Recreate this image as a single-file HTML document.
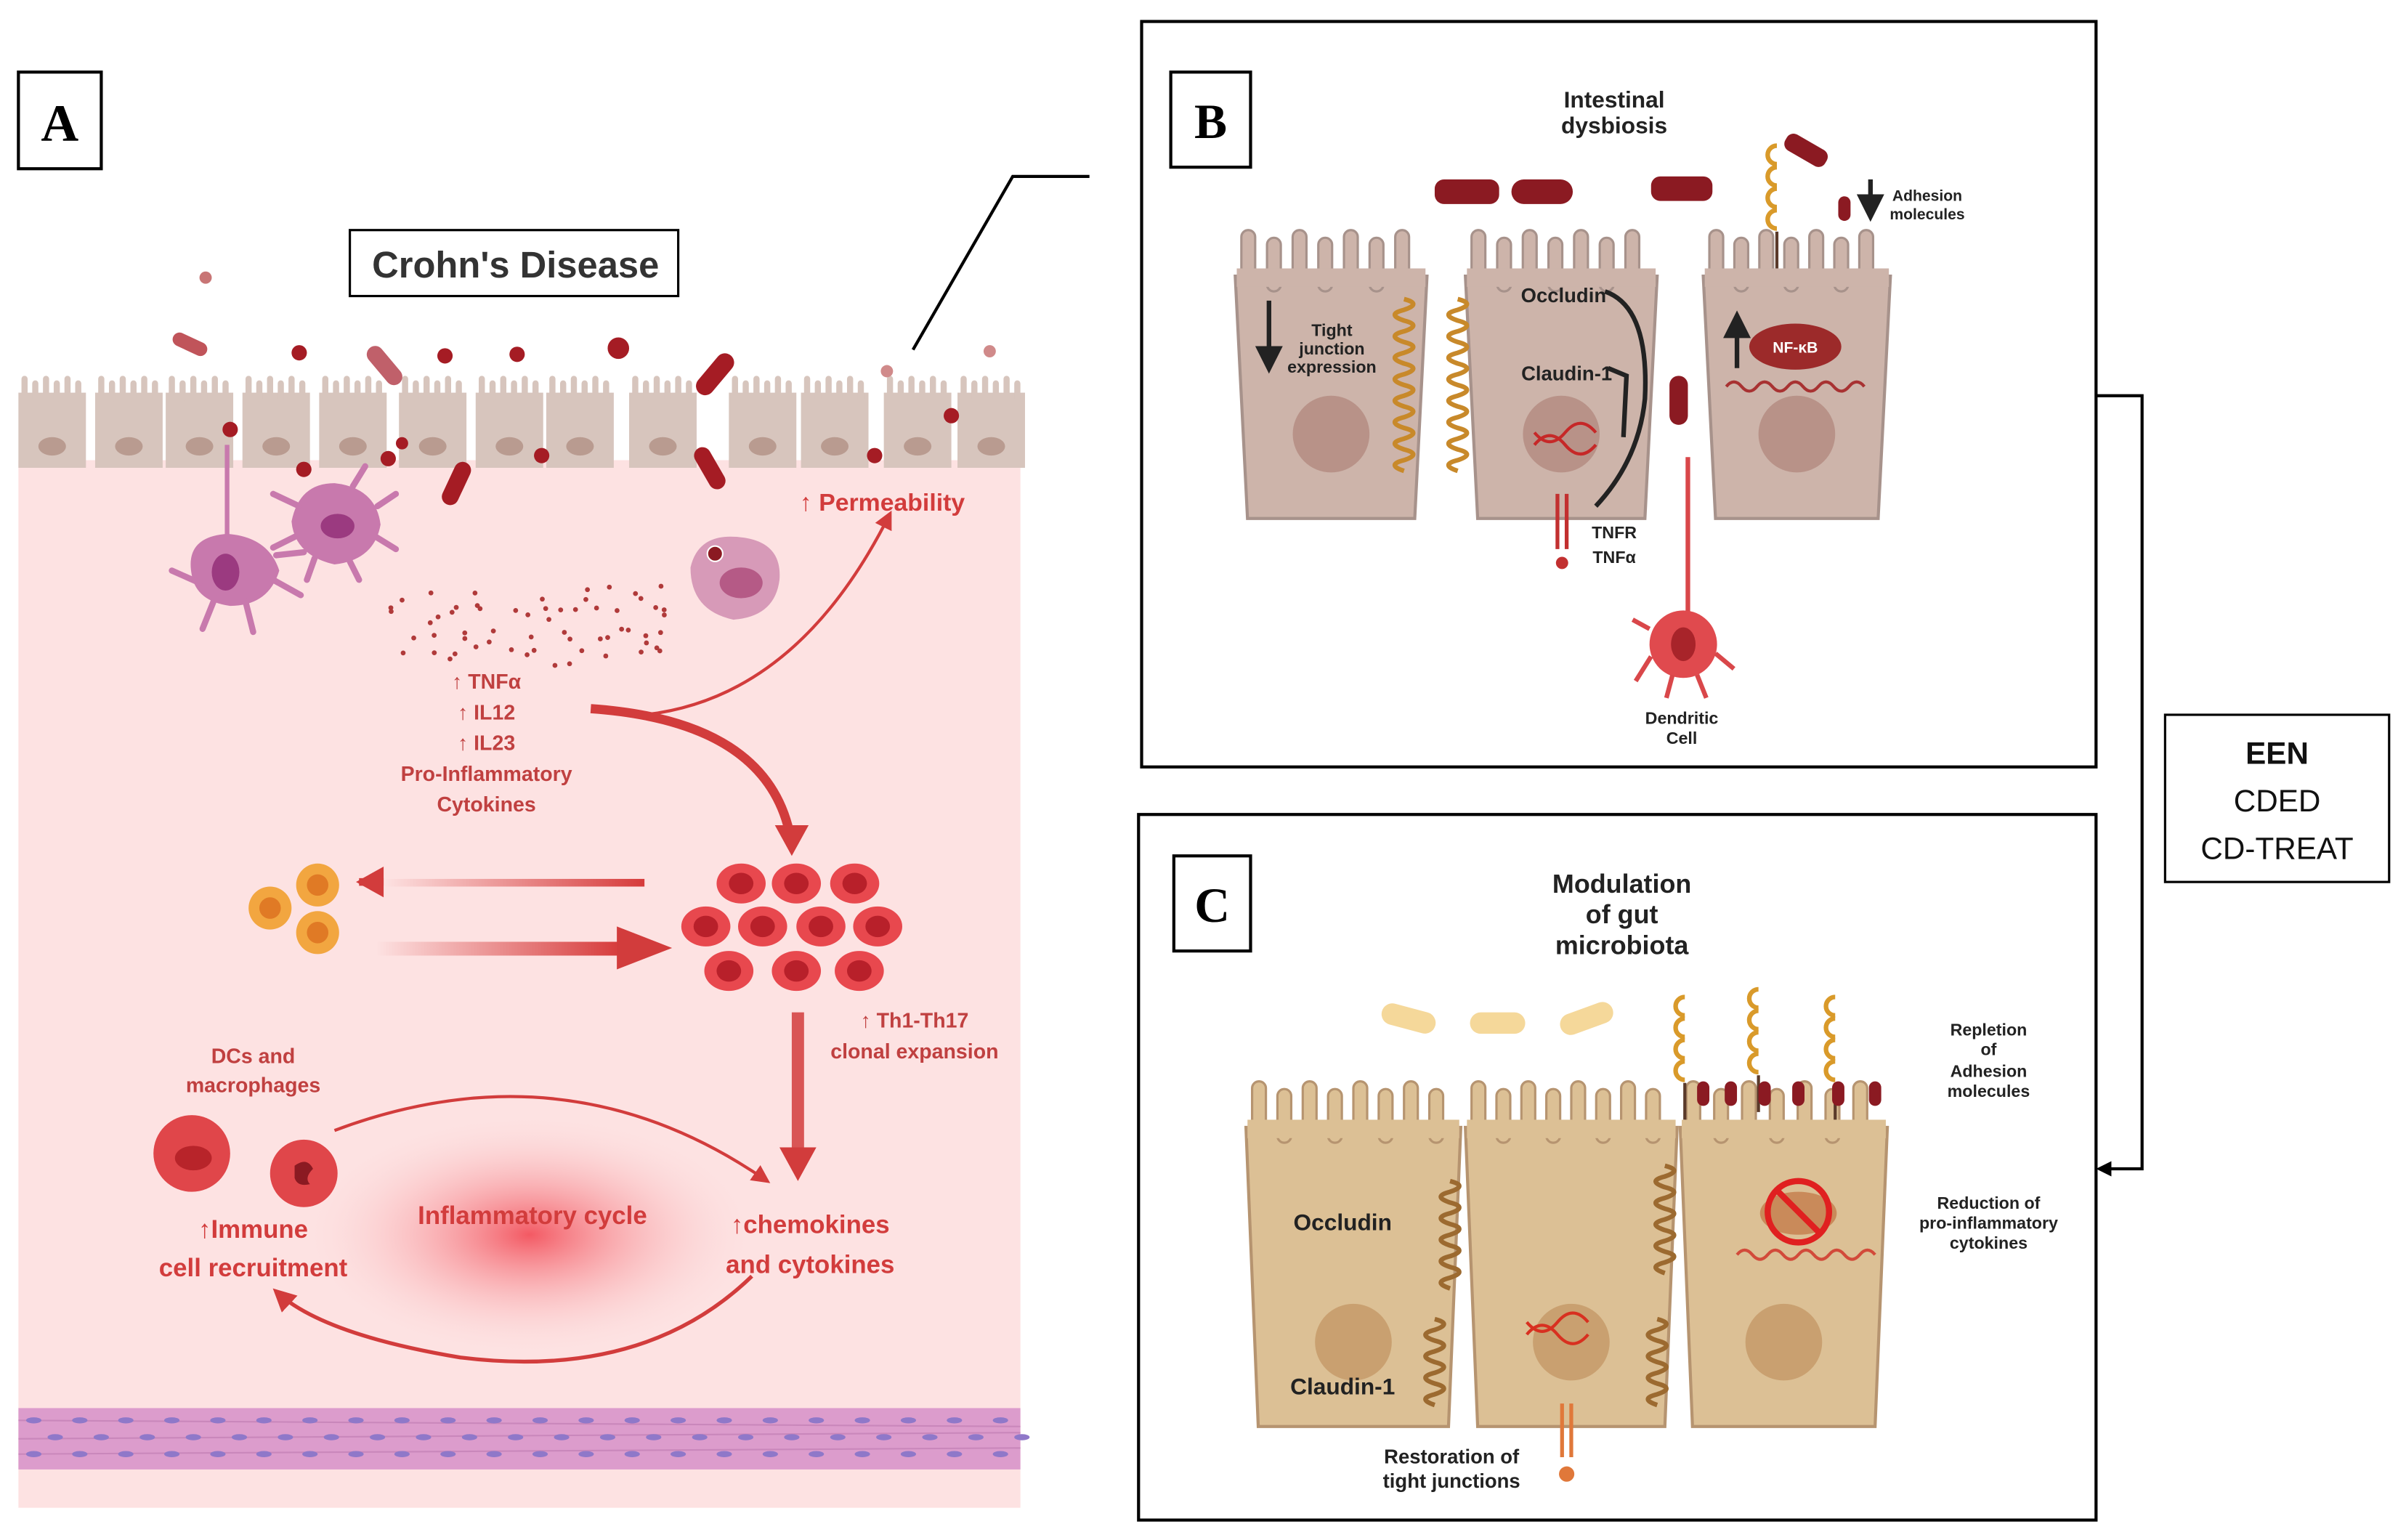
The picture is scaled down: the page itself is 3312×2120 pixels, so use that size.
<!DOCTYPE html>
<html><head><meta charset="utf-8">
<style>
html,body{margin:0;padding:0;background:#fff;}
svg{display:block;}
text{font-family:"Liberation Sans",sans-serif;}
</style></head>
<body>
<svg id="s" width="3312" height="2120" viewBox="0 0 1568 1004" preserveAspectRatio="none" xmlns="http://www.w3.org/2000/svg">
<defs>
<radialGradient id="rg" cx="0.5" cy="0.5" r="0.5">
<stop offset="0" stop-color="#f24a55" stop-opacity="0.9"/>
<stop offset="1" stop-color="#fde3e3" stop-opacity="0"/>
</radialGradient>
<linearGradient id="fadeL" x1="0" x2="1"><stop offset="0" stop-color="#d63a3a"/><stop offset="1" stop-color="#d63a3a" stop-opacity="0"/></linearGradient>
<linearGradient id="fadeR" x1="0" x2="1"><stop offset="0" stop-color="#d63a3a" stop-opacity="0"/><stop offset="1" stop-color="#d63a3a"/></linearGradient>
<marker id="ar" viewBox="0 0 10 10" refX="8" refY="5" markerWidth="6" markerHeight="6" orient="auto"><path d="M0,0L10,5L0,10z" fill="#d23c3c"/></marker>
<marker id="ak" viewBox="0 0 10 10" refX="8" refY="5" markerWidth="6" markerHeight="6" orient="auto"><path d="M0,0L10,5L0,10z" fill="#222"/></marker>
</defs>
<rect width="1568" height="1004" fill="#fff"/>

<!-- Panel A -->
<rect x="12" y="300" width="653" height="683" fill="#fde2e2"/>
<ellipse cx="345" cy="805" rx="150" ry="80" fill="url(#rg)"/>
<g id="acells"></g>
<rect x="12" y="918" width="653" height="40" fill="#dc9ccc"/>
<g stroke="#c27fb4" stroke-width="1" opacity="0.7">
<line x1="12" y1="926" x2="665" y2="930"/><line x1="12" y1="938" x2="665" y2="934"/><line x1="12" y1="948" x2="665" y2="944"/>
</g>
<g id="muscle"></g>

<rect x="12" y="47" width="54" height="63" fill="#fff" stroke="#000" stroke-width="2"/>
<text x="39" y="92" font-family="Liberation Serif" font-weight="bold" font-size="34" text-anchor="middle" style="font-family:'Liberation Serif',serif">A</text>
<rect x="228" y="150" width="214" height="43" fill="#fff" stroke="#000" stroke-width="1.5"/>
<text x="336" y="181" font-size="24" font-weight="bold" text-anchor="middle" fill="#333">Crohn's Disease</text>
<polyline points="595,228 660,115 710,115" fill="none" stroke="#000" stroke-width="2"/>

<!-- bacteria A -->
<g fill="#a51c24">
<circle cx="134" cy="181" r="4" fill="#c87575"/>
<rect x="112" y="220" width="24" height="9" rx="4.5" transform="rotate(25 124 224)" fill="#c0545a"/>
<circle cx="195" cy="230" r="5"/><circle cx="290" cy="232" r="5"/><circle cx="337" cy="231" r="5"/><circle cx="403" cy="227" r="7"/>
<rect x="236" y="233" width="30" height="11" rx="5.5" transform="rotate(50 251 238)" fill="#c0606a"/>
<rect x="450" y="238" width="32" height="12" rx="6" transform="rotate(-50 466 244)"/>
<rect x="282" y="310" width="30" height="11" rx="5.5" transform="rotate(-65 297 315)"/>
<rect x="448" y="300" width="30" height="11" rx="5.5" transform="rotate(60 463 305)"/>
<circle cx="150" cy="280" r="5"/><circle cx="198" cy="306" r="5"/><circle cx="253" cy="299" r="5"/><circle cx="262" cy="289" r="4"/><circle cx="353" cy="297" r="5"/><circle cx="570" cy="297" r="5"/><circle cx="620" cy="271" r="5"/>
<circle cx="578" cy="242" r="4" fill="#d08a8a"/><circle cx="645" cy="229" r="4" fill="#d08a8a"/>
</g>

<!-- immune cells top -->
<g fill="#c879ad">
<line x1="148" y1="290" x2="148" y2="360" stroke="#c879ad" stroke-width="3"/>
<path d="M125,375 Q120,350 148,348 Q175,350 182,372 Q175,395 150,395 Q128,392 125,375z"/>
<g stroke="#c879ad" stroke-width="4" stroke-linecap="round"><line x1="130" y1="380" x2="112" y2="372"/><line x1="140" y1="390" x2="132" y2="410"/><line x1="160" y1="392" x2="165" y2="412"/><line x1="178" y1="378" x2="196" y2="388"/><line x1="180" y1="362" x2="198" y2="360"/></g>
<ellipse cx="147" cy="373" rx="9" ry="12" fill="#9b3a80"/>
<path d="M190,340 Q195,315 218,315 Q245,318 248,342 Q244,365 218,368 Q192,362 190,340z"/>
<g stroke="#c879ad" stroke-width="4" stroke-linecap="round"><line x1="195" y1="330" x2="178" y2="322"/><line x1="192" y1="350" x2="178" y2="357"/><line x1="205" y1="364" x2="200" y2="378"/><line x1="228" y1="366" x2="234" y2="378"/><line x1="245" y1="350" x2="258" y2="358"/><line x1="246" y1="330" x2="258" y2="322"/><line x1="230" y1="317" x2="238" y2="304"/></g>
<ellipse cx="220" cy="343" rx="11" ry="8" fill="#9b3a80"/>
<path d="M450,370 Q455,348 480,350 Q510,352 508,378 Q505,402 478,404 Q450,398 450,370z" fill="#d79ab8"/>
<ellipse cx="483" cy="380" rx="14" ry="10" fill="#b55a86"/>
<circle cx="466" cy="361" r="5" fill="#8b1a22" stroke="#fff" stroke-width="1"/>
</g>
<g id="dots" fill="#b03a3a"></g>

<!-- A texts -->
<g fill="#d23c3c" font-weight="bold" text-anchor="middle">
<text x="575" y="333" font-size="16">↑ Permeability</text>
</g>
<g fill="#c04040" font-size="13.5" text-anchor="middle" font-weight="bold">
<text x="317" y="449">↑ TNFα</text><text x="317" y="469">↑ IL12</text><text x="317" y="489">↑ IL23</text>
<text x="317" y="509">Pro-Inflammatory</text><text x="317" y="529">Cytokines</text>
<text x="596" y="670">↑ Th1-Th17</text><text x="596" y="690">clonal expansion</text>
<text x="165" y="693">DCs and</text><text x="165" y="712">macrophages</text>
</g>
<g fill="#d23c3c" font-size="16.5" text-anchor="middle" font-weight="bold">
<text x="165" y="807">↑Immune</text><text x="165" y="832">cell recruitment</text>
<text x="347" y="798">Inflammatory cycle</text>
<text x="528" y="804">↑chemokines</text><text x="528" y="830">and cytokines</text>
</g>
<!-- arrows A -->
<path d="M420,466 Q520,455 580,335" fill="none" stroke="#d23c3c" stroke-width="2" marker-end="url(#ar)"/>
<path d="M385,462 Q500,470 515,545" fill="none" stroke="#d23c3c" stroke-width="6"/>
<path d="M505,538 L527,538 L516,558z" fill="#d23c3c"/>
<rect x="250" y="573" width="170" height="5" fill="url(#fadeL)" transform="rotate(180 335 575.5)"/>
<path d="M250,575 L234,575" stroke="#d23c3c" stroke-width="5"/><path d="M232,575 L250,565 L250,585z" fill="#d23c3c"/>
<rect x="245" y="614" width="160" height="9" fill="url(#fadeR)"/>
<path d="M402,604 L438,618 L402,632z" fill="#d23c3c"/>
<rect x="516" y="660" width="8" height="90" fill="#d23c3c" opacity="0.85"/>
<path d="M508,748 L532,748 L520,770z" fill="#d23c3c"/>
<path d="M218,737 Q370,680 500,770" fill="none" stroke="#d23c3c" stroke-width="2" marker-end="url(#ar)"/>
<path d="M490,832 Q420,900 300,885 Q210,870 180,842" fill="none" stroke="#d23c3c" stroke-width="2.5" marker-end="url(#ar)"/>
<!-- T cells -->
<g id="tcells"></g>
<!-- DC / macrophage bottom -->
<g fill="#e0464a">
<circle cx="125" cy="752" r="25"/>
<ellipse cx="126" cy="755" rx="12" ry="8" fill="#b8242a"/>
<circle cx="198" cy="765" r="22"/>
<path d="M192,760 q8,-6 12,2 q-6,6 -2,10 q-8,2 -10,-4z" fill="#8b1a22"/>
</g>

<!-- Panel B -->
<rect x="744" y="14" width="622" height="486" fill="#fff" stroke="#000" stroke-width="2"/>
<rect x="763" y="47" width="52" height="62" fill="#fff" stroke="#000" stroke-width="2"/>
<text x="789" y="90" font-weight="bold" font-size="32" text-anchor="middle" style="font-family:'Liberation Serif',serif">B</text>
<g id="bcells"></g>
<g font-weight="bold" fill="#222" text-anchor="middle">
<text x="1052" y="70" font-size="15">Intestinal</text><text x="1052" y="87" font-size="15">dysbiosis</text>
<text x="868" y="219" font-size="11">Tight</text><text x="868" y="231" font-size="11">junction</text><text x="868" y="243" font-size="11">expression</text>
<text x="1019" y="197" font-size="13">Occludin</text><text x="1021" y="248" font-size="13">Claudin-1</text>
<text x="1052" y="351" font-size="11">TNFR</text><text x="1052" y="367" font-size="11">TNFα</text>
<text x="1096" y="472" font-size="11">Dendritic</text><text x="1096" y="485" font-size="11">Cell</text>
<text x="1256" y="131" font-size="10">Adhesion</text><text x="1256" y="143" font-size="10">molecules</text>
</g>
<path d="M827,196 L827,240" stroke="#222" stroke-width="3" marker-end="url(#ak)"/>
<path d="M1132,240 L1132,206" stroke="#222" stroke-width="3" marker-end="url(#ak)"/>
<path d="M1219,117 L1219,141" stroke="#222" stroke-width="3" marker-end="url(#ak)"/>
<path d="M1046,190 Q1075,200 1072,260 Q1068,300 1040,330" fill="none" stroke="#222" stroke-width="3"/>
<path d="M1048,240 L1060,245 L1058,285" fill="none" stroke="#222" stroke-width="3"/>
<g fill="#8b1a22">
<rect x="935" y="117" width="42" height="16" rx="6"/><rect x="985" y="117" width="40" height="16" rx="8"/><rect x="1076" y="115" width="40" height="16" rx="6"/>
<rect x="1162" y="92" width="30" height="12" rx="5" transform="rotate(30 1177 98)"/>
<rect x="1088" y="245" width="12" height="32" rx="6"/>
<ellipse cx="1170" cy="226" rx="30" ry="15" fill="#9c2a2a"/>
</g>
<text x="1170" y="230" font-size="10" fill="#fff" text-anchor="middle" font-weight="bold">NF-κB</text>
<path d="M1125,252 q5,-6 10,0 t10,0 t10,0 t10,0 t10,0 t10,0 t10,0 t10,0 t10,0" fill="none" stroke="#a83232" stroke-width="2"/>
<path d="M1100,298 L1100,430" stroke="#d9474a" stroke-width="3"/>
<circle cx="1097" cy="420" r="22" fill="#e04a4e"/><ellipse cx="1097" cy="420" rx="8" ry="11" fill="#a8242a"/>
<g stroke="#d9474a" stroke-width="3"><line x1="1076" y1="428" x2="1066" y2="444"/><line x1="1090" y1="440" x2="1086" y2="455"/><line x1="1106" y1="440" x2="1112" y2="455"/><line x1="1118" y1="426" x2="1130" y2="436"/><line x1="1075" y1="410" x2="1064" y2="404"/></g>
<g stroke="#c23030" stroke-width="2.5"><line x1="1015" y1="322" x2="1015" y2="358"/><line x1="1021" y1="322" x2="1021" y2="358"/></g>
<circle cx="1018" cy="367" r="4" fill="#c23030"/>
<path d="M1000,290 q10,-12 20,0 t20,0 M1000,282 q10,12 20,0 t20,0" fill="none" stroke="#c62828" stroke-width="2"/>
<path d="M1000,290 q10,-12 20,0 t20,0" transform="translate(0,0)" fill="none" stroke="#c62828" stroke-width="2"/>

<!-- bracket -->
<polyline points="1366,258 1396,258 1396,762 1372,762" fill="none" stroke="#000" stroke-width="2"/>
<path d="M1366,762 L1376,757 L1376,767z" fill="#000"/>
<rect x="1411" y="466" width="146" height="109" fill="#fff" stroke="#000" stroke-width="1.5"/>
<g font-size="20" text-anchor="middle" fill="#111">
<text x="1484" y="498" font-weight="bold">EEN</text><text x="1484" y="529">CDED</text><text x="1484" y="560">CD-TREAT</text>
</g>

<!-- Panel C -->
<rect x="742" y="531" width="624" height="460" fill="#fff" stroke="#000" stroke-width="2"/>
<rect x="765" y="558" width="50" height="62" fill="#fff" stroke="#000" stroke-width="2"/>
<text x="790" y="601" font-weight="bold" font-size="32" text-anchor="middle" style="font-family:'Liberation Serif',serif">C</text>
<g id="ccells"></g>
<g font-weight="bold" fill="#222" text-anchor="middle">
<text x="1057" y="582" font-size="17">Modulation</text><text x="1057" y="602" font-size="17">of gut</text><text x="1057" y="622" font-size="17">microbiota</text>
<text x="875" y="802" font-size="15">Occludin</text><text x="875" y="909" font-size="15">Claudin-1</text>
<text x="946" y="954" font-size="13">Restoration of</text><text x="946" y="970" font-size="13">tight junctions</text>
<text x="1296" y="675" font-size="11">Repletion</text><text x="1296" y="688" font-size="11">of</text><text x="1296" y="702" font-size="11">Adhesion</text><text x="1296" y="715" font-size="11">molecules</text>
<text x="1296" y="788" font-size="11">Reduction of</text><text x="1296" y="801" font-size="11">pro-inflammatory</text><text x="1296" y="814" font-size="11">cytokines</text>
</g>
<g fill="#f5d89a"><rect x="900" y="657" width="36" height="14" rx="7" transform="rotate(15 918 664)"/><rect x="958" y="660" width="36" height="14" rx="7"/><rect x="1016" y="657" width="36" height="14" rx="7" transform="rotate(-20 1034 664)"/></g>
<ellipse cx="1172" cy="791" rx="25" ry="14" fill="#c98a5a"/>
<circle cx="1172" cy="790" r="20" fill="none" stroke="#e02020" stroke-width="4"/>
<line x1="1158" y1="776" x2="1186" y2="804" stroke="#e02020" stroke-width="4"/>
<path d="M1132,818 q5,-6 10,0 t10,0 t10,0 t10,0 t10,0 t10,0 t10,0 t10,0 t10,0" fill="none" stroke="#d24a3a" stroke-width="2"/>
<path d="M995,870 q10,-12 20,0 t20,0 M995,862 q10,12 20,0 t20,0" fill="none" stroke="#d83020" stroke-width="2"/>
<g stroke="#e0783a" stroke-width="2.5"><line x1="1018" y1="915" x2="1018" y2="950"/><line x1="1024" y1="915" x2="1024" y2="950"/></g>
<circle cx="1021" cy="961" r="5" fill="#e0783a"/>
</g>
</svg>
<script>
var NS="http://www.w3.org/2000/svg";
function el(p,t,a){var e=document.createElementNS(NS,t);for(var k in a)e.setAttribute(k,a[k]);p.appendChild(e);return e;}
// A epithelial cells
var g=document.getElementById('acells');
var xs=[12,62,108,158,208,260,310,356,410,475,522,576,624];
xs.forEach(function(x){var w=44;
 el(g,'rect',{x:x,y:256,width:w,height:49,fill:'#d7c5bd'});
 for(var i=0;i<6;i++) el(g,'rect',{x:x+2+i*7,y:245+(i%2)*3,width:4,height:14,rx:2,fill:'#d7c5bd'});
 el(g,'ellipse',{cx:x+w/2,cy:291,rx:9,ry:6,fill:'#b99b90'});
});
// muscle nuclei
var m=document.getElementById('muscle');
for(var r=0;r<3;r++)for(var i=0;i<22;i++) el(m,'ellipse',{cx:22+i*30+(r%2)*14,cy:926+r*11,rx:5,ry:2,fill:'#8f78c9'});
// dots
var d=document.getElementById('dots');var seed=3;function rnd(){seed=(seed*9301+49297)%233280;return seed/233280;}
for(var i=0;i<60;i++){var x=250+rnd()*190;var y=375+rnd()*50+Math.abs(x-340)*-0.15+15;el(d,'circle',{cx:x,cy:y,r:1.6});}
// T cells
var t=document.getElementById('tcells');
[[483,576],[519,576],[557,576],[460,604],[497,604],[535,604],[572,604],[475,633],[519,633],[560,633]].forEach(function(p){
 el(t,'ellipse',{cx:p[0],cy:p[1],rx:16,ry:13,fill:'#e8484e'});el(t,'ellipse',{cx:p[0],cy:p[1],rx:8,ry:7,fill:'#b8202a'});});
[[176,592],[207,577],[207,608]].forEach(function(p){el(t,'circle',{cx:p[0],cy:p[1],r:14,fill:'#f2a640'});el(t,'circle',{cx:p[0],cy:p[1],r:7,fill:'#e07a25'});});
// B cells
var b=document.getElementById('bcells');
function cell(p,x,w,top,bot,fill,stroke,nuc){
 el(p,'path',{d:'M'+x+','+(top+15)+' L'+(x+w)+','+(top+15)+' L'+(x+w-8)+','+bot+' L'+(x+8)+','+bot+' Z',fill:fill,stroke:stroke,'stroke-width':2});
 var n=Math.floor(w/17);for(var i=0;i<n;i++) el(p,'rect',{x:x+4+i*(w-8)/n,y:top-15+(i%2)*5,width:9,height:35,rx:4.5,fill:fill,stroke:stroke,'stroke-width':1.5});
 el(p,'rect',{x:x+1,y:top+10,width:w-2,height:12,fill:fill});
 el(p,'circle',{cx:x+w/2,cy:bot-55,r:25,fill:nuc});
}
cell(b,805,125,165,338,'#cdb4aa','#a7928b','#b89288');
cell(b,955,125,165,338,'#cdb4aa','#a7928b','#b89288');
cell(b,1110,122,165,338,'#cdb4aa','#a7928b','#b89288');
var c=document.getElementById('ccells');
cell(c,812,140,720,930,'#dcc095','#b69470','#c9a070');
cell(c,955,138,720,930,'#dcc095','#b69470','#c9a070');
cell(c,1095,135,720,930,'#dcc095','#b69470','#c9a070');
// junction squiggles B
function squig(p,x,y0,y1,col){var s='M'+x+','+y0;for(var y=y0;y<y1;y+=14)s+=' q12,3 0,7 q-12,3 0,7';el(p,'path',{d:s,fill:'none',stroke:col,'stroke-width':3});}
squig(b,915,195,305,'#c8892a');squig(b,950,195,305,'#c8892a');
squig(c,945,770,830,'#9c6a30');squig(c,935,860,910,'#9c6a30');squig(c,1085,760,830,'#9c6a30');squig(c,1080,860,910,'#9c6a30');
// adhesion molecules
[[1150,95,b],[1090,650,c],[1138,645,c],[1188,650,c]].forEach(function(a){var p=a[2];
 for(var i=0;i<4;i++) el(p,'path',{d:'M'+(a[0]+8)+','+(a[1]+i*14)+' a6,6 0 1,0 0,12',fill:'none',stroke:'#d99a2a','stroke-width':3});
 el(p,'line',{x1:a[0]+8,y1:a[1]+56,x2:a[0]+8,y2:a[1]+80,stroke:'#5a3a2a','stroke-width':2});});
[1110,1128,1150,1172,1198,1222].forEach(function(x){el(c,'rect',{x:x-4,y:705,width:8,height:16,rx:4,fill:'#8b1a22'});});
el(b,'rect',{x:1198,y:128,width:8,height:16,rx:4,fill:'#8b1a22'});
</script>
</body></html>
